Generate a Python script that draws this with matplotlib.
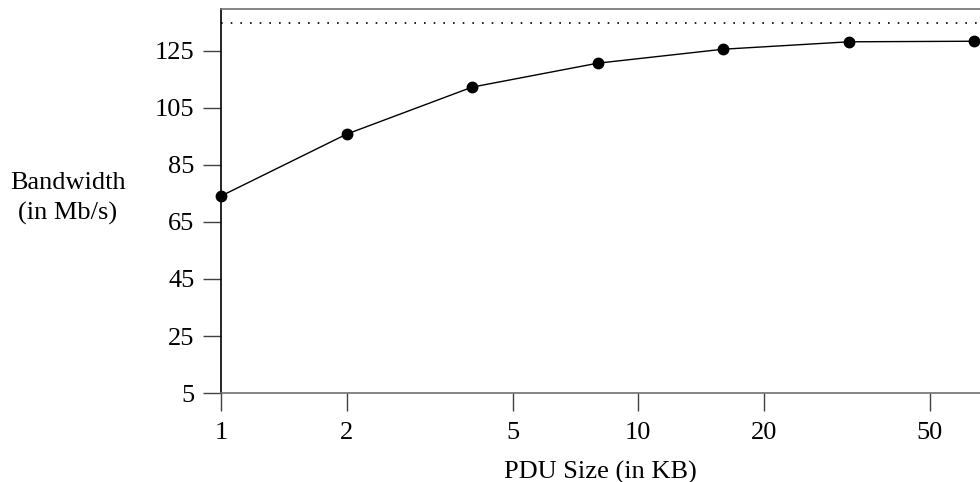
import matplotlib
matplotlib.use("Agg")
import matplotlib.pyplot as plt

# PDU size (KB) vs bandwidth (Mb/s)
pdu_kb = [1, 2, 4, 8, 16, 32, 64]
bandwidth = [74.1, 95.8, 112.3, 120.7, 125.6, 128.2, 128.4]
peak_bw = 134.7
xticks = [1, 2, 5, 10, 20, 50]
yticks = [5, 25, 45, 65, 85, 105, 125]

plt.rcParams['font.family'] = ['Liberation Serif', 'DejaVu Serif']

fig = plt.figure(figsize=(9.8, 4.82), dpi=100)
ax = fig.add_axes([0.2255, 0.1846, 0.7745, 0.7967])

ax.plot(pdu_kb, bandwidth, color='black', lw=1, marker='o', ms=7.5, clip_on=False, zorder=3)
ax.axhline(peak_bw, color='black', lw=1.2, ls=(0, (1, 4.8)))

ax.set_xscale('log')
ax.set_xlim(1, 66)
ax.set_ylim(5, 139.7)
ax.set_xticks(xticks)
ax.set_xticklabels([str(t) for t in xticks])
ax.minorticks_off()
ax.set_yticks(yticks)

ax.spines['right'].set_visible(False)
ax.spines['left'].set_color('black')
ax.spines['bottom'].set_color('#707070')
ax.spines['top'].set_color('#707070')
for s in ax.spines.values():
    s.set_linewidth(1.2)

ax.tick_params(axis='both', direction='out', length=13, width=1, labelsize=19)
ax.tick_params(axis='x', colors='#404040', labelcolor='black', pad=8)
ax.tick_params(axis='y', colors='#404040', labelcolor='black', pad=6)

ax.set_xlabel('PDU Size (in KB)', fontsize=19, labelpad=12)
fig.text(0.069, 0.589, 'Bandwidth\n(in Mb/s)', fontsize=19, ha='center', va='center',
         linespacing=1.45)

fig.savefig('out.png', dpi=100)
